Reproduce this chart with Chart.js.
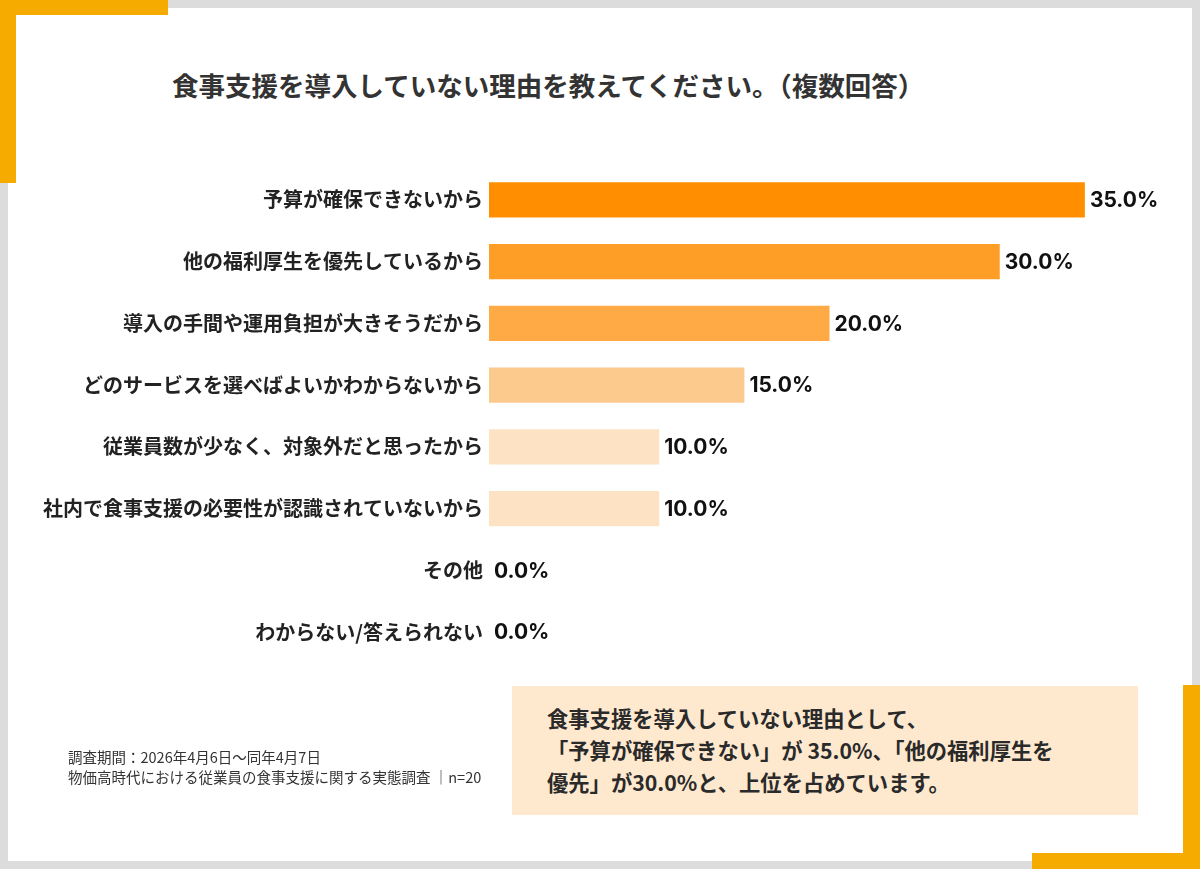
<!DOCTYPE html>
<html lang="ja">
<head>
<meta charset="utf-8">
<script src="https://cdn.jsdelivr.net/npm/chart.js@4.4.1/dist/chart.umd.min.js"></script>
<style>
  html, body { margin: 0; padding: 0; }
  body {
    width: 1200px; height: 869px; position: relative; overflow: hidden;
    background: #dcdcdc;
    font-family: "Noto Sans CJK JP", "Noto Sans", sans-serif;
  }
  .card { position: absolute; left: 8px; top: 8px; width: 1184px; height: 853px; background: #fff; }
  .bar-o { position: absolute; background: #f5ab00; }
  #wrap { position: absolute; left: 0; top: 0; width: 1200px; height: 869px; }
  .title {
    position: absolute; left: 172px; top: 68px; margin: 0;
    font-size: 26.5px; font-weight: 700; color: #333; white-space: nowrap; line-height: 34px;
  }
  .summary {
    position: absolute; left: 512px; top: 686px; width: 626px; height: 129px;
    background: #fee9cf;
  }
  .summary p {
    margin: 0; position: absolute; left: 35px; top: 16px;
    font-size: 21.3px; font-weight: 700; color: #2a2a2a; line-height: 32px; white-space: nowrap;
  }
  .note {
    position: absolute; left: 68px; top: 747px; margin: 0;
    font-size: 14.5px; color: #333; line-height: 20px; white-space: nowrap;
  }
</style>
</head>
<body>
<div class="card"></div>
<div class="bar-o" style="left:0;top:0;width:168px;height:15px"></div>
<div class="bar-o" style="left:0;top:0;width:16px;height:183px"></div>
<div class="bar-o" style="left:1183px;top:685px;width:17px;height:184px"></div>
<div class="bar-o" style="left:1032px;top:853px;width:168px;height:16px"></div>

<h1 class="title">食事支援を導入していない理由を教えてください。（複数回答）</h1>

<div id="wrap"><canvas id="chart"></canvas></div>

<div class="summary">
  <p>食事支援を導入していない理由として、<br>「予算が確保できない」が 35.0%、「他の福利厚生を<br>優先」が30.0%と、上位を占めています。</p>
</div>

<p class="note">調査期間：2026年4月6日～同年4月7日<br>物価高時代における従業員の食事支援に関する実態調査 ｜n=20</p>

<script>
const categories = [
  '予算が確保できないから',
  '他の福利厚生を優先しているから',
  '導入の手間や運用負担が大きそうだから',
  'どのサービスを選べばよいかわからないから',
  '従業員数が少なく、対象外だと思ったから',
  '社内で食事支援の必要性が認識されていないから',
  'その他',
  'わからない/答えられない'
]
const values = [35.0, 30.0, 20.0, 15.0, 10.0, 10.0, 0.0, 0.0]
const barColors = ['#ff8f00', '#ff9e26', '#ffaa45', '#fdca8e', '#fde2c4', '#fde2c4', '#fde2c4', '#fde2c4']

// value labels at the bar ends
const valueLabels = {
  id: 'valueLabels',
  afterDatasetsDraw(chart) {
    const { ctx } = chart
    const meta = chart.getDatasetMeta(0)
    ctx.save()
    ctx.font = '700 21px Inter, "Noto Sans", sans-serif'
    ctx.fillStyle = '#111'
    ctx.textAlign = 'left'
    ctx.textBaseline = 'middle'
    meta.data.forEach((bar, i) => {
      ctx.fillText(values[i].toFixed(1) + '%', bar.x + 5, bar.y + 1)
    })
    ctx.restore()
  }
}

new Chart(document.getElementById('chart'), {
  type: 'bar',
  data: {
    labels: categories,
    datasets: [{
      data: values,
      backgroundColor: barColors,
      borderWidth: 0,
      barPercentage: 0.57,
      categoryPercentage: 1
    }]
  },
  options: {
    indexAxis: 'y',
    responsive: true,
    maintainAspectRatio: false,
    animation: false,
    layout: { padding: { left: 0, right: 30, top: 169, bottom: 206 } },
    plugins: { legend: { display: false }, tooltip: { enabled: false } },
    scales: {
      x: { display: false, min: 0, max: 40 },
      y: {
        afterFit(axis) { axis.width = 489 },
        grid: { display: false, drawTicks: false },
        border: { display: false },
        ticks: {
          padding: 6,
          color: '#222',
          font: { family: '"Noto Sans CJK JP", sans-serif', size: 20, weight: '700' }
        }
      }
    }
  },
  plugins: [valueLabels]
})
</script>
</body>
</html>
